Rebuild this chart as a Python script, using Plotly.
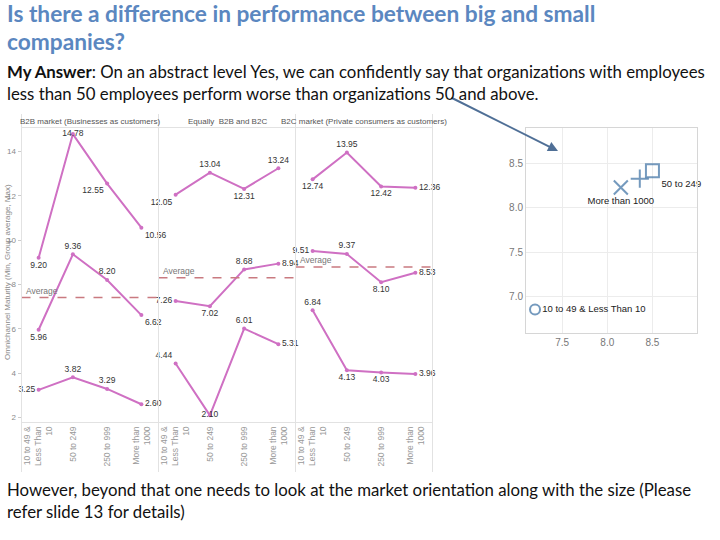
import plotly.graph_objects as go

# ---------------- data ----------------
categories = ["10 to 49 &<br>Less Than<br>10", "50 to 249", "250 to 999", "More than<br>1000"]
panel_titles = ["B2B market (Businesses as customers)", "Equally  B2B and B2C",
                "B2C market (Private consumers as customers)"]

b2b_max = [9.20, 14.78, 12.55, 10.56]
b2b_avg = [5.96, 9.36, 8.20, 6.62]
b2b_min = [3.25, 3.82, 3.29, 2.60]
eq_max = [12.05, 13.04, 12.31, 13.24]
eq_avg = [7.26, 7.02, 8.68, 8.94]
eq_min = [4.44, 2.10, 6.01, 5.31]
b2c_max = [12.74, 13.95, 12.42, 12.36]
b2c_avg = [9.51, 9.37, 8.10, 8.53]
b2c_min = [6.84, 4.13, 4.03, 3.96]
panel_average = [7.41, 8.30, 8.79]
y_ticks = [2, 4, 6, 8, 10, 12, 14]

scatter_labels = ["10 to 49 & Less Than 10", "50 to 249", "250 to 999", "More than 1000"]
scatter_x = [7.20, 8.50, 8.36, 8.15]
scatter_y = [6.85, 8.42, 8.33, 8.23]
scatter_x_ticks = [7.5, 8.0, 8.5]
scatter_y_ticks = [7.0, 7.5, 8.0, 8.5]

# ---------------- styling ----------------
W, H = 720, 540
def px(x):
    return x / W
def py(y):
    return 1 - y / H

LINE = "#cf70c3"
AVG = "#c97a80"
BORDER = "#e2e2e2"
GRAY = "#8a8a8a"
NARROW = "Liberation Sans Narrow, Arial Narrow, Liberation Sans, sans-serif"
BODY = "Lato, Carlito, Open Sans, sans-serif"
BLUE = "#3b6fa3"

panel_series = [
    (b2b_max, b2b_avg, b2b_min),
    (eq_max, eq_avg, eq_min),
    (b2c_max, b2c_avg, b2c_min),
]
positions = [
    (["bottom center", "middle center", "bottom left", "bottom right"],
     ["bottom center", "top center", "top center", "bottom right"],
     ["middle left", "top center", "top center", "middle right"]),
    (["bottom left", "top center", "bottom center", "top center"],
     ["middle left", "bottom center", "top center", "middle right"],
     ["top left", "middle center", "top center", "middle right"]),
    (["bottom center", "top center", "bottom center", "middle right"],
     ["middle left", "top center", "bottom center", "middle right"],
     ["top center", "bottom center", "bottom center", "middle right"]),
]

x_edges = [21.5, 158.5, 295.5, 432.5]
fig = go.Figure()
xs = list(range(len(categories)))

for i, series in enumerate(panel_series):
    xa = "x" if i == 0 else f"x{i+1}"
    for s, vals in enumerate(series):
        fig.add_trace(go.Scatter(
            x=xs, y=vals, xaxis=xa, yaxis="y",
            mode="lines+markers+text",
            text=[f"{v:.2f}" for v in vals],
            textposition=positions[i][s],
            textfont=dict(family=NARROW, size=8.5, color="#333"),
            line=dict(color=LINE, width=2),
            marker=dict(color=LINE, size=4),
            cliponaxis=False, showlegend=False, hoverinfo="skip",
        ))

# scatter (right chart)
display_labels = [lab if lab != "250 to 999" else "" for lab in scatter_labels]
fig.add_trace(go.Scatter(
    x=scatter_x, y=scatter_y, xaxis="x4", yaxis="y2",
    mode="markers+text",
    text=display_labels,
    textposition=["middle right", "bottom right", "top center", "bottom center"],
    textfont=dict(family="Liberation Sans, Arial, sans-serif", size=9.5, color="#222"),
    marker=dict(symbol=["circle-open", "square-open", "cross-thin-open", "x-thin-open"],
                size=[10, 13, 13, 14], color=BLUE, line=dict(color=BLUE, width=2)),
    cliponaxis=False, showlegend=False, hoverinfo="skip",
))

layout = dict(
    width=W, height=H, margin=dict(l=0, r=0, t=0, b=0),
    paper_bgcolor="white", plot_bgcolor="white",
    showlegend=False,
    yaxis=dict(domain=[py(422), py(127)], range=[1.8, 15.1], tickvals=y_ticks,
               ticks="outside", ticklen=3, tickcolor="#ccc",
               tickfont=dict(family=NARROW, size=8, color=GRAY),
               showline=True, linecolor=BORDER, showgrid=False, zeroline=False, anchor="x"),
    yaxis2=dict(domain=[py(333.3), py(128.3)], range=[6.58, 8.9], tickvals=scatter_y_ticks,
                tickformat=".1f", tickfont=dict(family="Liberation Sans, sans-serif", size=10, color="#777"),
                showline=True, mirror=True, linecolor="#d6d6d6", showgrid=True, gridcolor="#ececec",
                zeroline=False, ticks="", anchor="x4"),
    xaxis4=dict(domain=[px(526), px(696.7)], range=[7.1, 8.99], tickvals=scatter_x_ticks,
                tickformat=".1f", tickfont=dict(family="Liberation Sans, sans-serif", size=10, color="#777"),
                showline=True, mirror=True, linecolor="#d6d6d6", showgrid=True, gridcolor="#ececec",
                zeroline=False, ticks="", anchor="y2"),
)
for i in range(3):
    key = "xaxis" if i == 0 else f"xaxis{i+1}"
    layout[key] = dict(domain=[px(x_edges[i]), px(x_edges[i+1])], range=[-0.5, 3.5],
                       tickvals=xs, ticktext=categories, tickangle=-90,
                       tickfont=dict(family="Liberation Sans, sans-serif", size=8.5, color="#999"),
                       showline=True, linecolor=BORDER, showgrid=False, zeroline=False,
                       ticks="", anchor="y")
fig.update_layout(**layout)

shapes = []
annotations = []
for i in range(3):
    xr = "x domain" if i == 0 else f"x{i+1} domain"
    shapes.append(dict(type="line", xref=xr, yref="y", x0=0, x1=1,
                       y0=panel_average[i], y1=panel_average[i],
                       line=dict(color=AVG, width=1.5, dash="dash")))
    annotations.append(dict(xref=xr, yref="y", x=0.02, y=panel_average[i], text="Average",
                            showarrow=False, xanchor="left", yanchor="bottom",
                            font=dict(family=NARROW, size=8.5, color="#777")))
    annotations.append(dict(xref=xr, yref="paper", x=0.5, y=py(121), text=panel_titles[i],
                            showarrow=False, xanchor="center", yanchor="middle",
                            font=dict(family=NARROW, size=8, color="#555")))
for xe in x_edges:
    shapes.append(dict(type="line", xref="paper", yref="paper", x0=px(xe), x1=px(xe),
                       y0=py(114), y1=py(472), line=dict(color=BORDER, width=1)))
shapes.append(dict(type="line", xref="paper", yref="paper", x0=px(x_edges[0]), x1=px(x_edges[-1]),
                   y0=py(127.5), y1=py(127.5), line=dict(color=BORDER, width=1)))

annotations.append(dict(xref="paper", yref="paper", x=px(7), y=py(272), textangle=-90,
                        text="Omnichannel Maturity (Min, Group average, Max)", showarrow=False,
                        xanchor="center", yanchor="middle",
                        font=dict(family="Liberation Sans, sans-serif", size=8, color=GRAY)))

# arrow
annotations.append(dict(xref="paper", yref="paper", x=px(558), y=py(151), ax=-108, ay=-54,
                        text="", showarrow=True, arrowhead=2, arrowsize=1, arrowwidth=2,
                        arrowcolor="#4f6f96"))

def txt(x, y, s, size, color, family=BODY):
    annotations.append(dict(xref="paper", yref="paper", x=px(x), y=py(y), text=s,
                            showarrow=False, xanchor="left", yanchor="middle",
                            font=dict(family=family, size=size, color=color)))

TITLE_C = "#5b87c0"
txt(5, 14, "<b>Is there a difference in performance between big and small</b>", 22.7, TITLE_C)
txt(5, 41, "<b>companies?</b>", 22.7, TITLE_C)
txt(5, 71, "<b>My Answer</b>: On an abstract level Yes, we can confidently say that organizations with employees", 16.8, "#111")
txt(5, 93, "less than 50 employees perform worse than organizations 50 and above.", 16.8, "#111")
txt(5, 489, "However, beyond that one needs to look at the market orientation along with the size (Please", 16.8, "#111")
txt(5, 511, "refer slide 13 for details)", 16.8, "#111")

fig.update_layout(shapes=shapes, annotations=annotations)
fig.write_html("out.html", config={"displayModeBar": False},
               post_script="document.body.style.margin='0px';")
